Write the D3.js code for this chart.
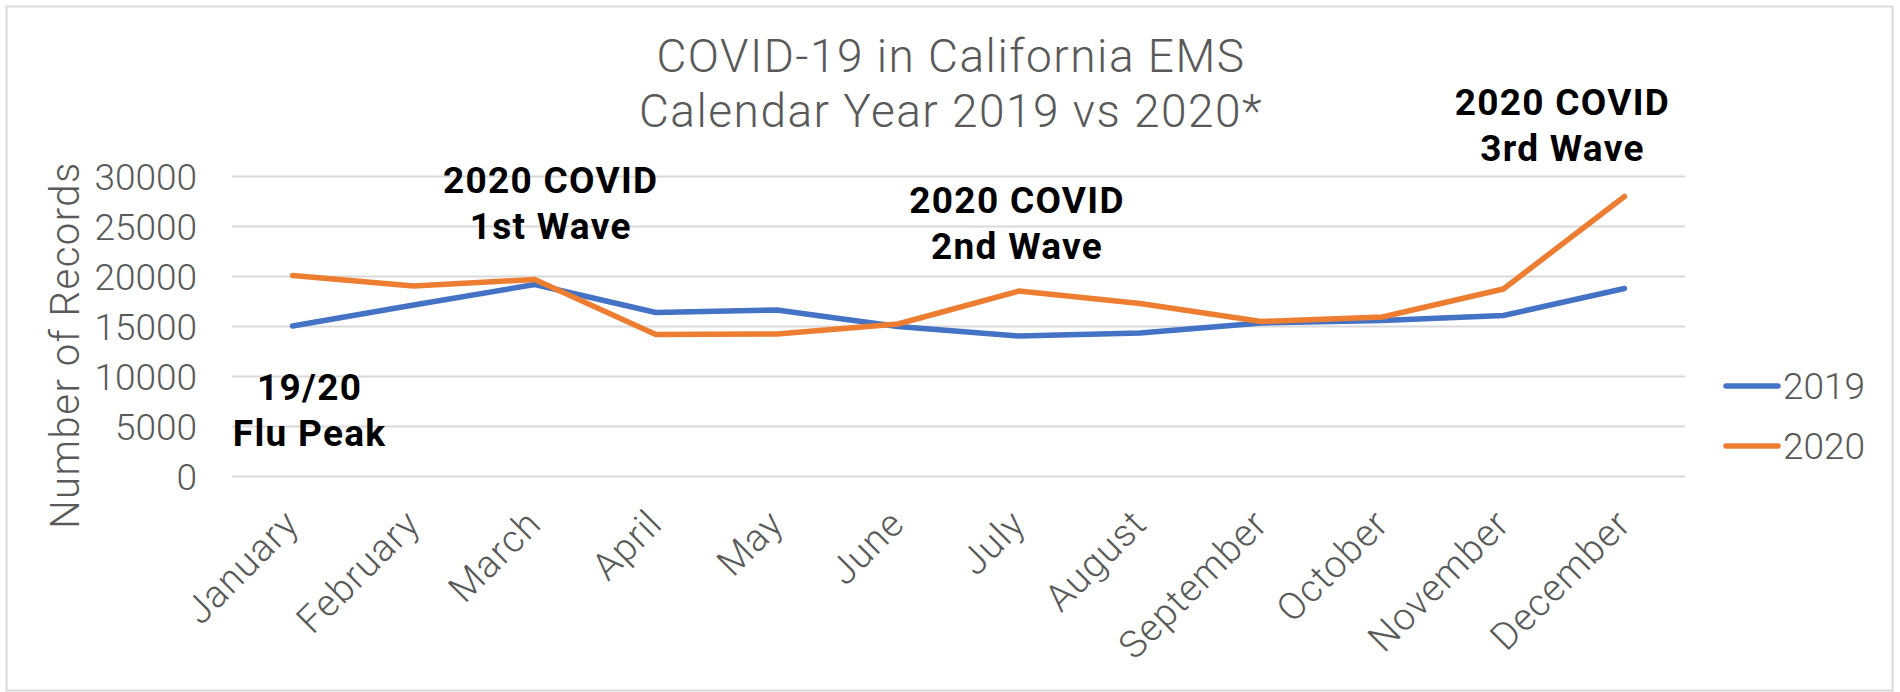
<!DOCTYPE html>
<html>
<head>
<meta charset="utf-8">
<script src="https://cdn.jsdelivr.net/npm/d3@7"></script>
<style>
  html, body { margin: 0; padding: 0; background: #ffffff; }
  svg { display: block; }
  text { font-family: Roboto, "Liberation Sans", sans-serif; }
</style>
</head>
<body>
<svg id="chart" width="1900" height="692"></svg>
<script>
// ---- data ----
const months = ["January","February","March","April","May","June","July","August","September","October","November","December"];
const values2019 = [15000, 17100, 19150, 16350, 16600, 14950, 14000, 14300, 15300, 15550, 16050, 18750];
const values2020 = [20050, 19000, 19650, 14150, 14200, 15200, 18500, 17250, 15450, 15900, 18700, 27950];
const seriesNames = ["2019", "2020"];
const yTicks = [0, 5000, 10000, 15000, 20000, 25000, 30000];
const titleLines = ["COVID-19 in California EMS", "Calendar Year 2019 vs 2020*"];
const yAxisTitle = "Number of Records";
const annotations = [
  { lines: ["19/20", "Flu Peak"], month: "February", dx: -104, y: 400 },
  { lines: ["2020 COVID", "1st Wave"], month: "March", dx: 16, y: 193 },
  { lines: ["2020 COVID", "2nd Wave"], month: "July", dx: -2, y: 213 },
  { lines: ["2020 COVID", "3rd Wave"], month: "December", dx: -62, y: 115 }
];

const colors = { "2019": "#4472C4", "2020": "#ED7D31" };
const textGray = "#595959";

const svg = d3.select("#chart");

// outer frame
svg.append("rect")
  .attr("x", 6.5).attr("y", 6.5).attr("width", 1886).attr("height", 684)
  .attr("fill", "#fff").attr("stroke", "#D9D9D9").attr("stroke-width", 2);

const x = d3.scalePoint().domain(months).range([232, 1685]).padding(0.5);
const y = d3.scaleLinear().domain([0, 30000]).range([476, 176]);

// gridlines + y tick labels
const yAxis = d3.axisLeft(y).tickValues(yTicks).tickSize(-(1685 - 232)).tickFormat(d => d);
const gy = svg.append("g").attr("transform", "translate(232,0)").call(yAxis);
gy.select(".domain").remove();
gy.selectAll(".tick line").attr("stroke", "#D9D9D9").attr("stroke-width", 2);
gy.selectAll(".tick text")
  .attr("x", -35)
  .attr("fill", textGray)
  .style("font-size", "37px")
  .style("font-weight", "300")
  .attr("dy", "0.36em");

// x axis labels
const xAxis = d3.axisBottom(x).tickSize(0);
const gx = svg.append("g").attr("transform", "translate(0,476)").call(xAxis);
gx.select(".domain").remove();
gx.selectAll(".tick text")
  .attr("fill", textGray)
  .style("font-size", "38px")
  .style("font-weight", "300")
  .style("letter-spacing", "1px")
  .attr("text-anchor", "end")
  .attr("y", 0).attr("dy", 0)
  .attr("transform", "translate(8,50) rotate(-45)");

// lines
const line = d3.line().x((d, i) => x(months[i])).y(d => y(d));
[[values2019, "2019"], [values2020, "2020"]].forEach(([vals, name]) => {
  svg.append("path")
    .datum(vals)
    .attr("d", line)
    .attr("fill", "none")
    .attr("stroke", colors[name])
    .attr("stroke-width", 5.5)
    .attr("stroke-linejoin", "round")
    .attr("stroke-linecap", "round");
});

// title
const title = svg.append("text")
  .attr("text-anchor", "middle")
  .attr("fill", textGray)
  .style("font-size", "46px")
  .style("font-weight", "300")
  .style("letter-spacing", "1.5px");
titleLines.forEach((t, i) => {
  title.append("tspan").attr("x", 951).attr("y", 72 + i * 55).text(t);
});

// y axis title
svg.append("text")
  .attr("transform", "translate(79,345) rotate(-90)")
  .attr("text-anchor", "middle")
  .attr("fill", textGray)
  .style("font-size", "40px")
  .style("font-weight", "300")
  .style("letter-spacing", "1.5px")
  .text(yAxisTitle);

// annotations
annotations.forEach(a => {
  const t = svg.append("text")
    .attr("text-anchor", "middle")
    .attr("fill", "#000")
    .style("font-size", "37px")
    .style("font-weight", "bold")
    .style("letter-spacing", "1.3px");
  a.lines.forEach((l, i) => {
    t.append("tspan").attr("x", x(a.month) + a.dx).attr("y", a.y + i * 46).text(l);
  });
});

// legend
seriesNames.forEach((name, i) => {
  const ly = 386 + i * 60;
  svg.append("line")
    .attr("x1", 1726).attr("x2", 1778).attr("y1", ly).attr("y2", ly)
    .attr("stroke", colors[name]).attr("stroke-width", 5.5).attr("stroke-linecap", "round");
  svg.append("text")
    .attr("x", 1783).attr("y", ly).attr("dy", "0.36em")
    .attr("fill", textGray)
    .style("font-size", "37px")
    .style("font-weight", "300")
    .text(name);
});
</script>
</body>
</html>
